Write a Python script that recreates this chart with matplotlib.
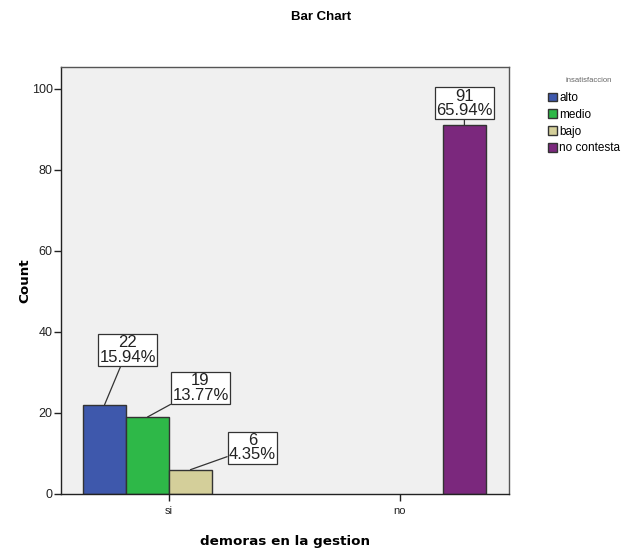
import matplotlib as mpl
import matplotlib.pyplot as plt
import numpy as np

mpl.rcParams.update(
    {
        "font.family": ["Liberation Sans", "DejaVu Sans"],
        "axes.linewidth": 1.0,
        "xtick.labelsize": 8,
        "ytick.labelsize": 9,
    }
)

# clusters on the x axis and the response levels inside each cluster
groups = ["si", "no"]
levels = ["alto", "medio", "bajo", "no contesta"]
colors = ["#3E58AC", "#2EB848", "#D4CF9A", "#7B287D"]

# counts per (group, level); levels not present in a group are 0
counts = {
    "si": [22, 19, 6, 0],
    "no": [0, 0, 0, 91],
}
percents = {
    "si": [15.94, 13.77, 4.35, 0.0],
    "no": [0.0, 0.0, 0.0, 65.94],
}

# label box offsets (pixels) from each bar top
label_offsets = {
    ("si", 0): (23, 55),
    ("si", 1): (53, 29),
    ("si", 2): (62, 22),
    ("no", 3): (0, 22),
}

fig = plt.figure(figsize=(6.26, 5.53), dpi=100)
ax = fig.add_axes([0.0974, 0.1067, 0.7157, 0.773])
ax.set_facecolor("#F0F0F0")

width = 0.186
xpos = np.arange(len(groups))
offsets = (np.arange(len(levels)) - 1.5) * width

for j, (level, color) in enumerate(zip(levels, colors)):
    vals = np.array([counts[g][j] for g in groups])
    keep = vals > 0
    ax.bar(xpos[keep] + offsets[j], vals[keep], width=width, color=color,
           edgecolor="#333333", linewidth=1.0, label=level, zorder=2)

for i, g in enumerate(groups):
    for j in range(len(levels)):
        c = counts[g][j]
        if c == 0:
            continue
        x0 = xpos[i] + offsets[j]
        dx, dy = label_offsets[(g, j)]
        ax.annotate(
            f"{c}\n{percents[g][j]:.2f}%",
            xy=(x0, c),
            xytext=(dx, dy),
            textcoords="offset pixels",
            ha="center",
            va="center",
            fontsize=12,
            linespacing=0.95,
            color="#222222",
            bbox=dict(boxstyle="square,pad=0.08", fc="white", ec="#333333", lw=0.9),
            arrowprops=dict(arrowstyle="-", color="#333333", lw=0.9, shrinkA=0, shrinkB=0),
            zorder=5,
        )

ax.set_xlim(-0.4675, 1.472)
ax.set_ylim(0, 105.5)
ax.set_xticks(xpos)
ax.set_xticklabels(groups)
ax.set_yticks([0, 20, 40, 60, 80, 100])
ax.tick_params(axis="both", direction="out", length=5, width=1.0, colors="#222222")
ax.tick_params(axis="x", pad=4)
ax.tick_params(axis="y", pad=1)
for sp in ax.spines.values():
    sp.set_color("#555555")
for sp in ["left", "bottom"]:
    ax.spines[sp].set_color("#222222")

label_font = dict(family="DejaVu Sans", fontsize=9.7, fontweight="bold")
ax.set_xlabel("demoras en la gestion", labelpad=13, **label_font)
ax.set_ylabel("Count", labelpad=0.5, **label_font)

fig.text(0.513, 0.969, "Bar Chart", ha="center", va="center", fontsize=9.5, fontweight="bold")

# legend title sits apart from the entries
fig.text(589 / 626, 1 - 80 / 553, "insatisfaccion", ha="center", va="center",
         fontsize=5.5, color="#666666")
ax.legend(
    loc="upper left",
    bbox_to_anchor=(1.087, 0.94),
    frameon=False,
    fontsize=8.5,
    handlelength=0.75,
    handleheight=0.75,
    handletextpad=0.2,
    labelspacing=0.4,
    borderaxespad=0,
    borderpad=0,
)

fig.savefig("out.png", dpi=100)
